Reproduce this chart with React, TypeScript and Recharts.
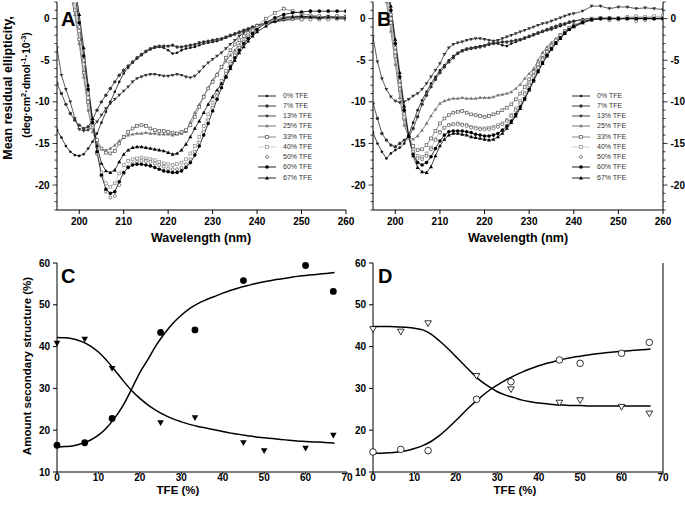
import React from 'react';
import { LineChart, Line, XAxis, YAxis, Legend, ComposedChart, Scatter } from 'recharts';

const FONT = '"Liberation Sans", Arial, Helvetica, sans-serif';

// ---------- Spectra (panels A, B) ----------
const wavelengths = [
  195, 196, 197, 198, 199, 200, 201, 202, 203, 204,
  205, 206, 207, 208, 209, 210, 211, 212, 213, 214,
  215, 216, 217, 218, 219, 220, 221, 222, 223, 224,
  225, 226, 227, 228, 229, 230, 231, 232, 233, 234,
  235, 236, 237, 238, 239, 240,
  242, 244, 246, 248, 250, 252, 254, 256, 258, 260,
];

const seriesLabels = ['0% TFE', '7% TFE', '13% TFE', '25% TFE', '33% TFE', '40% TFE', '50% TFE', '60% TFE', '67% TFE'];
const seriesKeys = ['s0', 's7', 's13', 's25', 's33', 's40', 's50', 's60', 's67'];

const a0 = [-13.4, -14.3, -15.3, -16.0, -16.4, -16.5, -16.3, -15.6, -14.8, -13.8,
  -12.5, -11.2, -10.0, -8.8, -7.6, -6.6, -5.9, -5.3, -4.8, -4.4,
  -4.0, -3.7, -3.5, -3.4, -3.5, -3.8, -4.2, -4.1, -3.8, -3.6,
  -3.5, -3.4, -3.2, -3.0, -2.9, -2.8, -2.7, -2.5, -2.3, -2.1,
  -1.9, -1.7, -1.5, -1.3, -1.1, -0.9,
  -0.6, -0.4, -0.2, -0.1, 0.0, 0.1, 0.0, 0.1, 0.0, 0.0];
const a7 = [-7.8, -9.0, -10.3, -11.4, -12.2, -12.8, -13.2, -13.0, -12.1, -11.0,
  -10.0, -9.2, -8.4, -7.6, -6.8, -6.2, -5.7, -5.2, -4.7, -4.3,
  -3.9, -3.6, -3.4, -3.3, -3.3, -3.3, -3.2, -3.4, -3.4, -3.3,
  -3.2, -3.1, -2.9, -2.8, -2.7, -2.6, -2.5, -2.4, -2.2, -2.0,
  -1.8, -1.6, -1.4, -1.2, -1.0, -0.8,
  -0.5, -0.3, -0.1, 0.0, 0.1, 0.2, 0.1, 0.0, 0.1, 0.0];
const a13 = [-3.5, -6.8, -8.5, -10.0, -12.0, -13.3, -13.5, -13.4, -13.0, -12.4,
  -11.6, -10.8, -10.2, -9.7, -9.2, -8.7, -8.2, -7.6, -7.2, -7.0,
  -6.8, -6.7, -6.7, -6.8, -6.9, -6.9, -6.8, -6.7, -6.8, -7.0,
  -7.1, -6.9, -6.4, -5.8, -5.3, -4.9, -4.5, -4.1, -3.6, -3.1,
  -2.6, -2.1, -1.7, -1.4, -1.1, -0.9,
  -0.5, -0.2, 0.0, 0.1, 0.2, 0.3, 0.2, 0.3, 0.2, 0.3];
const a25 = [9.0, 7.0, 5.0, 3.0, 0.5, -3.0, -7.0, -11.0, -13.6, -15.0,
  -15.7, -15.8, -15.6, -15.2, -14.7, -14.3, -14.0, -13.9, -13.8, -13.8,
  -13.7, -13.8, -13.8, -13.9, -13.9, -13.9, -14.0, -13.9, -13.8, -13.6,
  -12.4, -11.3, -10.3, -9.3, -8.3, -7.4, -6.6, -5.9, -5.1, -4.4,
  -3.8, -3.1, -2.5, -2.0, -1.5, -1.1,
  -0.4, 0.0, 0.2, 0.3, 0.3, 0.2, 0.1, 0.0, 0.0, -0.1];
const a33 = [12.0, 9.0, 6.0, 3.5, 1.0, -2.5, -6.5, -10.0, -12.8, -14.6,
  -15.6, -16.1, -16.2, -15.9, -15.0, -14.2, -13.6, -13.2, -12.9, -12.8,
  -12.9, -13.2, -13.4, -13.5, -13.5, -13.6, -13.7, -13.8, -13.6, -13.4,
  -12.8, -11.8, -10.6, -9.4, -8.4, -7.6, -6.8, -5.8, -4.7, -3.8,
  -3.1, -2.6, -2.1, -1.7, -1.3, -0.9,
  0.0, 0.7, 1.2, 0.9, 0.6, 0.4, 0.3, 0.2, 0.3, 0.2];
const a40 = [13.0, 10.0, 7.0, 4.5, 2.0, -1.5, -5.5, -9.5, -13.0, -16.2,
  -18.5, -19.8, -20.2, -19.8, -18.6, -17.6, -17.1, -16.9, -16.8, -16.7,
  -16.8, -16.9, -17.0, -17.2, -17.4, -17.5, -17.6, -17.5, -17.3, -16.9,
  -16.2, -15.3, -14.2, -12.9, -11.5, -10.1, -8.8, -7.5, -6.3, -5.2,
  -4.2, -3.3, -2.6, -2.0, -1.5, -1.1,
  -0.5, -0.1, 0.1, 0.0, -0.1, 0.0, -0.1, 0.0, 0.0, -0.1];
const a50 = [14.0, 11.0, 8.0, 5.5, 2.5, -1.0, -5.0, -9.0, -12.8, -16.2,
  -18.9, -20.8, -21.5, -21.3, -20.0, -18.6, -17.8, -17.4, -17.2, -17.1,
  -17.1, -17.2, -17.4, -17.6, -17.8, -18.0, -18.1, -18.1, -17.9, -17.5,
  -16.9, -16.0, -14.9, -13.6, -12.2, -10.7, -9.3, -7.9, -6.6, -5.4,
  -4.4, -3.5, -2.8, -2.2, -1.7, -1.3,
  -0.6, -0.2, 0.0, 0.0, -0.1, -0.1, 0.0, -0.1, 0.0, 0.0];
const a60 = [15.0, 12.0, 9.0, 6.0, 3.0, -0.5, -4.5, -8.5, -12.5, -16.0,
  -18.8, -20.5, -21.0, -20.8, -19.6, -18.5, -17.9, -17.6, -17.5, -17.5,
  -17.6, -17.7, -17.9, -18.1, -18.3, -18.4, -18.5, -18.5, -18.3, -17.9,
  -17.3, -16.4, -15.3, -14.0, -12.6, -11.1, -9.7, -8.3, -7.0, -5.8,
  -4.7, -3.8, -3.0, -2.4, -1.8, -1.3,
  -0.5, 0.1, 0.5, 0.7, 0.8, 0.9, 0.9, 0.9, 0.9, 0.9];
const a67 = [16.0, 13.0, 10.0, 7.0, 4.0, 0.5, -3.5, -8.0, -12.0, -15.3,
  -17.4, -18.3, -18.5, -18.2, -17.2, -16.3, -15.8, -15.5, -15.4, -15.4,
  -15.5, -15.6, -15.7, -15.8, -15.9, -16.1, -16.3, -16.2, -15.8, -15.1,
  -14.2, -13.2, -12.3, -11.3, -10.3, -9.4, -8.6, -7.8, -7.0, -6.0,
  -5.0, -4.1, -3.4, -2.7, -2.1, -1.6,
  -0.9, -0.3, 0.1, 0.2, 0.3, 0.2, 0.1, 0.2, 0.1, 0.1];

const b0 = [-13.7, -15.0, -16.0, -16.8, -16.2, -15.8, -15.5, -15.0, -14.0, -12.5,
  -11.0, -9.8, -8.8, -7.8, -7.0, -6.2, -5.6, -5.0, -4.5, -4.1,
  -3.8, -3.6, -3.5, -3.4, -3.3, -3.2, -3.0, -2.9, -3.0, -3.2,
  -3.3, -3.0, -2.8, -2.6, -2.4, -2.2, -2.0, -1.8, -1.6, -1.4,
  -1.3, -1.1, -0.9, -0.7, -0.5, -0.3,
  -0.1, 0.0, 0.0, 0.1, 0.0, 0.1, 0.0, 0.1, 0.0, 0.0];
const b7 = [-10.2, -12.0, -13.8, -14.6, -15.2, -15.4, -15.0, -14.6, -14.2, -13.2,
  -11.8, -10.3, -9.2, -8.2, -7.3, -6.5, -5.8, -5.2, -4.7, -4.2,
  -3.9, -3.7, -3.6, -3.5, -3.4, -3.3, -3.1, -3.0, -2.9, -2.8,
  -2.8, -2.7, -2.6, -2.5, -2.3, -2.1, -1.9, -1.7, -1.5, -1.3,
  -1.1, -0.9, -0.7, -0.6, -0.4, -0.3,
  -0.1, 0.0, 0.0, 0.0, 0.0, 0.0, 0.0, 0.0, 0.0, 0.0];
const b13 = [-2.2, -5.2, -7.2, -8.5, -9.4, -9.9, -10.1, -10.0, -9.7, -9.3,
  -9.0, -8.5, -7.8, -7.0, -6.2, -5.4, -4.3, -3.5, -3.1, -2.9,
  -2.8, -2.6, -2.5, -2.4, -2.4, -2.5, -2.6, -2.7, -2.6, -2.4,
  -2.2, -2.0, -1.8, -1.6, -1.4, -1.2, -1.0, -0.8, -0.6, -0.5,
  -0.3, -0.1, 0.1, 0.3, 0.5, 0.6,
  0.9, 1.5, 1.5, 1.2, 1.4, 1.4, 1.2, 1.3, 1.2, 1.1];
const b25 = [10.0, 7.5, 5.0, 2.0, -1.5, -5.5, -9.5, -12.8, -14.3, -14.5,
  -14.1, -13.4, -12.6, -11.7, -10.9, -10.2, -9.9, -9.7, -9.6, -9.6,
  -9.5, -9.6, -9.6, -9.6, -9.5, -9.5, -9.5, -9.4, -9.2, -9.1,
  -9.0, -8.8, -8.4, -7.9, -7.2, -6.6, -6.0, -5.0, -4.1, -3.4,
  -2.9, -2.4, -2.0, -1.6, -1.2, -0.9,
  -0.5, -0.2, 0.0, 0.0, 0.1, 0.0, 0.1, 0.1, 0.0, 0.1];
const b33 = [11.0, 8.5, 6.0, 3.0, -0.5, -4.5, -8.5, -12.0, -14.2, -15.3,
  -15.8, -15.7, -15.2, -14.4, -13.5, -12.6, -12.0, -11.6, -11.3, -11.2,
  -11.1, -11.3, -11.5, -11.6, -11.7, -11.8, -11.7, -11.5, -11.3, -11.0,
  -10.7, -10.3, -9.7, -9.0, -8.2, -7.3, -6.4, -5.5, -4.7, -3.9,
  -3.2, -2.6, -2.0, -1.5, -1.1, -0.8,
  -0.3, 0.0, 0.1, 0.1, 0.0, 0.1, 0.2, 0.1, 0.2, 0.2];
const b40 = [12.0, 9.5, 6.5, 3.5, 0.0, -4.0, -8.0, -11.8, -14.3, -15.8,
  -16.5, -16.6, -16.2, -15.5, -14.5, -13.6, -13.1, -12.8, -12.7, -12.6,
  -12.7, -12.8, -13.0, -13.1, -13.2, -13.2, -13.1, -13.0, -12.8, -12.6,
  -12.2, -11.6, -10.8, -9.9, -8.9, -7.8, -6.8, -5.8, -4.9, -4.0,
  -3.2, -2.6, -2.0, -1.5, -1.1, -0.8,
  -0.3, 0.0, 0.1, 0.0, 0.1, 0.2, 0.3, 0.2, 0.3, 0.3];
const b50 = [12.5, 10.0, 7.0, 4.0, 0.5, -3.5, -7.5, -11.5, -14.3, -16.0,
  -16.8, -16.9, -16.5, -15.7, -14.6, -13.7, -13.1, -12.8, -12.7, -12.7,
  -12.8, -12.9, -13.1, -13.2, -13.3, -13.3, -13.3, -13.2, -13.0, -12.7,
  -12.3, -11.7, -11.0, -10.1, -9.1, -8.0, -6.9, -5.9, -4.9, -4.0,
  -3.3, -2.6, -2.0, -1.5, -1.1, -0.8,
  -0.3, -0.1, 0.0, -0.2, -0.1, 0.0, -0.3, -0.2, 0.0, 0.1];
const b60 = [13.0, 10.5, 7.5, 4.5, 1.0, -3.0, -7.0, -11.0, -14.2, -16.3,
  -17.3, -17.6, -17.3, -16.6, -15.6, -14.7, -14.0, -13.6, -13.5, -13.5,
  -13.5, -13.6, -13.7, -13.9, -14.0, -14.1, -14.1, -14.0, -13.8, -13.4,
  -12.9, -12.3, -11.5, -10.6, -9.6, -8.5, -7.4, -6.3, -5.3, -4.4,
  -3.6, -2.9, -2.3, -1.7, -1.3, -0.9,
  -0.4, -0.1, 0.0, 0.0, 0.0, 0.0, 0.0, 0.0, 0.0, 0.0];
const b67 = [14.0, 11.0, 8.0, 5.0, 1.5, -2.5, -6.5, -10.5, -14.0, -16.5,
  -17.9, -18.4, -18.5, -17.8, -16.5, -15.3, -14.5, -14.0, -13.8, -13.8,
  -13.9, -14.0, -14.2, -14.3, -14.4, -14.5, -14.6, -14.5, -14.2, -13.8,
  -13.2, -12.5, -11.7, -10.8, -9.7, -8.6, -7.5, -6.4, -5.4, -4.5,
  -3.7, -3.0, -2.4, -1.8, -1.3, -1.0,
  -0.5, -0.1, 0.0, 0.0, 0.0, 0.0, 0.0, 0.0, 0.0, 0.0];

const spectraA = [a0, a7, a13, a25, a33, a40, a50, a60, a67];
const spectraB = [b0, b7, b13, b25, b33, b40, b50, b60, b67];

const xTicksSpectra = [200, 210, 220, 230, 240, 250, 260];
const yTicksSpectra = [-23, -22, -21, -20, -19, -18, -17, -16, -15, -14, -13, -12, -11, -10, -9, -8, -7, -6, -5, -4, -3, -2, -1, 0, 1, 2];

// ---------- TFE titration (panels C, D) ----------
const tfePoints = [0, 6.7, 13.3, 25, 33.3, 45, 50, 60, 66.7];
const cHelixPts = [16.4, 17.0, 22.8, 43.4, 44.0, 55.8, null, 59.4, 53.2];
const cCoilPts = [40.8, 41.8, 34.8, 21.8, 23.0, 17.0, 15.1, 15.7, 18.8];
const dHelixPts = [14.8, 15.4, 15.1, 27.4, 31.6, 36.8, 36.0, 38.4, 41.0];
const dCoilPts = [44.2, 43.6, 45.6, 33.0, 29.8, 26.6, 27.2, 25.6, 24.0];

const fitX = [0, 2, 4, 6, 8, 10, 12, 14, 16, 18, 20, 22, 24, 26, 28, 30, 32, 34, 36, 38, 40, 42, 44, 46, 48, 50, 52, 54, 56, 58, 60, 62, 64, 66, 67];
const cHelixFit = [16.0, 16.1, 16.3, 16.8, 17.6, 18.8, 20.6, 23.0, 26.0, 29.8, 33.8, 37.0, 40.4, 43.2, 45.6, 47.5, 49.1, 50.3, 51.2, 52.0, 52.8, 53.5, 54.1, 54.6, 55.1, 55.5, 55.9, 56.2, 56.5, 56.8, 57.0, 57.2, 57.4, 57.6, 57.7];
const cCoilFit = [42.2, 42.1, 41.8, 41.2, 40.2, 38.7, 36.7, 34.3, 31.8, 29.5, 27.6, 26.0, 24.7, 23.6, 22.7, 22.0, 21.4, 20.9, 20.5, 20.1, 19.7, 19.3, 19.0, 18.7, 18.4, 18.2, 18.0, 17.8, 17.6, 17.4, 17.3, 17.2, 17.1, 17.0, 16.9];
const dHelixFit = [14.5, 14.5, 14.6, 14.8, 15.1, 15.6, 16.3, 17.3, 18.7, 20.4, 22.3, 24.3, 26.2, 27.9, 29.5, 30.8, 32.0, 33.0, 33.9, 34.7, 35.4, 36.0, 36.5, 37.0, 37.4, 37.7, 38.0, 38.3, 38.5, 38.7, 38.9, 39.0, 39.2, 39.3, 39.4];
const dCoilFit = [44.8, 44.8, 44.8, 44.7, 44.6, 44.4, 44.0, 43.0, 41.4, 39.6, 37.6, 35.6, 33.6, 31.8, 30.4, 29.2, 28.4, 27.8, 27.2, 26.8, 26.5, 26.3, 26.1, 26.0, 25.9, 25.9, 25.8, 25.8, 25.8, 25.8, 25.8, 25.8, 25.8, 25.8, 25.8];

const xTicksTFE = [0, 10, 20, 30, 40, 50, 60, 70];
const yTicksTFE = [10, 20, 30, 40, 50, 60];

// ---------- helpers ----------
const buildSpectra = (series: number[][]) =>
  wavelengths.map((wl, i) => {
    const row: any = { wl };
    seriesKeys.forEach((k, j) => { row[k] = series[j][i]; });
    return row;
  });
const dataA = buildSpectra(spectraA);
const dataB = buildSpectra(spectraB);

const toXY = (xs: number[], ys: (number | null)[]) =>
  xs.map((x, i) => ({ x, y: ys[i] })).filter((p) => p.y !== null);

const seriesStyles = [
  { stroke: '#1a1a1a', marker: 'dot' },
  { stroke: '#2a2a2a', marker: 'dotLg' },
  { stroke: '#333333', marker: 'triDown' },
  { stroke: '#6a6a6a', marker: 'triUp' },
  { stroke: '#7a7a7a', marker: 'sq' },
  { stroke: '#c8c8c8', marker: 'sqLight' },
  { stroke: 'none', marker: 'ring' },
  { stroke: '#000000', marker: 'dotBlack' },
  { stroke: '#111111', marker: 'triUpBlack' },
];

function marker(kind: string, cx: number, cy: number, key?: string) {
  if (cx == null || cy == null || isNaN(cx) || isNaN(cy)) return <g key={key} />;
  const tri = (up: boolean, s: number, fill: string) =>
    up
      ? <path key={key} d={`M${cx - s},${cy + s * 0.7}L${cx + s},${cy + s * 0.7}L${cx},${cy - s}Z`} fill={fill} />
      : <path key={key} d={`M${cx - s},${cy - s * 0.7}L${cx + s},${cy - s * 0.7}L${cx},${cy + s}Z`} fill={fill} />;
  switch (kind) {
    case 'dot': return <circle key={key} cx={cx} cy={cy} r={1.3} fill="#111" />;
    case 'dotLg': return <circle key={key} cx={cx} cy={cy} r={1.7} fill="#333" />;
    case 'triDown': return tri(false, 1.9, '#333');
    case 'triUp': return tri(true, 1.9, '#777');
    case 'sq': return <rect key={key} x={cx - 1.4} y={cy - 1.4} width={2.8} height={2.8} fill="#fff" stroke="#555" strokeWidth={0.7} />;
    case 'sqLight': return <rect key={key} x={cx - 1.4} y={cy - 1.4} width={2.8} height={2.8} fill="#fff" stroke="#888" strokeWidth={0.7} />;
    case 'ring': return <circle key={key} cx={cx} cy={cy} r={1.5} fill="#fff" stroke="#555" strokeWidth={0.7} />;
    case 'dotBlack': return <circle key={key} cx={cx} cy={cy} r={1.8} fill="#000" />;
    case 'triUpBlack': return tri(true, 2.0, '#000');
    default: return <g key={key} />;
  }
}

const makeDot = (kind: string, sk: string) => (p: any) => marker(kind, p.cx, p.cy, `${sk}-${p.index}`);

const makeSpectraYTick = (side: 'left' | 'right') => (props: any) => {
  const { x, y, payload } = props;
  const v = payload.value;
  const major = v % 5 === 0;
  const dir = side === 'left' ? -1 : 1;
  const len = major ? 4.5 : 2.5;
  return (
    <g>
      <line x1={x} y1={y} x2={x + dir * len} y2={y} stroke="#000" strokeWidth={0.8} />
      {major && (
        <text x={x + dir * (len + 3)} y={y} dy="0.355em" textAnchor={side === 'left' ? 'end' : 'start'}
          fontSize={10} fontWeight={700} fontFamily={FONT} fill="#000">{v}</text>
      )}
    </g>
  );
};

const SpectraLegend = () => (
  <div style={{ fontFamily: FONT, fontSize: 7, color: '#333' }}>
    {seriesLabels.map((name, i) => (
      <div key={name} style={{ display: 'flex', alignItems: 'center', height: 10.25 }}>
        <svg width={20} height={10} style={{ display: 'block' }}>
          {seriesStyles[i].stroke !== 'none' && (
            <line x1={0} y1={5} x2={18} y2={5} stroke={seriesStyles[i].stroke} strokeWidth={0.9} />
          )}
          {marker(seriesStyles[i].marker, 9, 5)}
        </svg>
        <span style={{ marginLeft: 5, whiteSpace: 'nowrap', lineHeight: '10px' }}>{name}</span>
      </div>
    ))}
  </div>
);

const tickStyle = { fontSize: 10, fontWeight: 700, fill: '#000', fontFamily: FONT };
const axisLine = { stroke: '#000', strokeWidth: 1 };

const ellipticityLabel = (p: any) => (
  <g fontFamily={FONT} fontWeight={700} fill="#000">
    <text transform="translate(8,88) rotate(-90)" x={0} y={0} dy="0.35em" textAnchor="middle" fontSize={12.5}>
      Mean residual ellipticity,
    </text>
    <text transform="translate(26,85) rotate(-90)" x={0} y={0} dy="0.35em" textAnchor="middle" fontSize={10.5}>
      <tspan>(deg·cm</tspan>
      <tspan dy={-4} fontSize={7.5}>2</tspan>
      <tspan dy={4}>·dmol</tspan>
      <tspan dy={-4} fontSize={7.5}>-1</tspan>
      <tspan dy={4}>·10</tspan>
      <tspan dy={-4} fontSize={7.5}>-3</tspan>
      <tspan dy={4}>)</tspan>
    </text>
  </g>
);

const amountLabel = (p: any) => (
  <text transform="translate(27,116) rotate(-90)" x={0} y={0} dy="0.35em" textAnchor="middle"
    fontSize={11.5} fontWeight={700} fontFamily={FONT} fill="#000">
    Amount secondary structure (%)
  </text>
);

const xTitle = (title: string, tx: number, ty: number, size: number, letter: string, lx: number, ly: number) => (p: any) => (
  <g fontFamily={FONT} fontWeight={700} fill="#000">
    <text x={tx} y={ty} textAnchor="middle" fontSize={size}>{title}</text>
    <text x={lx} y={ly} fontSize={20}>{letter}</text>
  </g>
);

function SpectraPanel({ data, left, legendLeft, rightLabels, letter, letterX, titleX, yLabel }: any) {
  const width = rightLabels ? 345 : 360;
  return (
    <div style={{ position: 'absolute', left, top: 0 }}>
      <LineChart width={width} height={260} data={data}
        margin={{ top: 2, right: rightLabels ? 0 : 14, bottom: 0, left: 0 }}>
        <XAxis xAxisId="b" dataKey="wl" type="number" domain={[195, 260]} ticks={xTicksSpectra}
          allowDataOverflow interval={0} height={50} tickSize={4} tickMargin={4}
          tick={tickStyle} tickLine={{ stroke: '#000' }} axisLine={axisLine}
          label={xTitle('Wavelength (nm)', titleX, 241.5, 12.5, letter, letterX, 26)} />
        <XAxis xAxisId="t" orientation="top" dataKey="wl" type="number" domain={[195, 260]} height={0}
          tick={false} tickLine={false} axisLine={axisLine} />
        <YAxis yAxisId="l" type="number" domain={[-23, 2]} ticks={yTicksSpectra} allowDataOverflow
          interval={0} width={rightLabels ? 33 : 57} tickSize={0} tickMargin={0} tickLine={false}
          tick={makeSpectraYTick('left')} axisLine={axisLine} label={yLabel} />
        <YAxis yAxisId="r" orientation="right" type="number" domain={[-23, 2]} ticks={yTicksSpectra}
          allowDataOverflow interval={0} width={rightLabels ? 22 : 0} tickSize={0} tickMargin={0}
          tickLine={false} tick={rightLabels ? makeSpectraYTick('right') : false} axisLine={axisLine} />
        {seriesKeys.map((k, i) => (
          <Line key={k} xAxisId="b" yAxisId="l" type="linear" dataKey={k} name={seriesLabels[i]}
            stroke={seriesStyles[i].stroke} strokeWidth={0.8}
            dot={makeDot(seriesStyles[i].marker, k)} activeDot={false} isAnimationActive={false} />
        ))}
        <Legend layout="vertical" align="center" verticalAlign="middle"
          wrapperStyle={{ left: legendLeft, top: 90.6, width: 80 }} content={() => <SpectraLegend />} />
      </LineChart>
    </div>
  );
}

function TitrationPanel({ left, rightLabels, helixPts, coilPts, helixFit, coilFit, open, letter, letterX, titleX }: any) {
  const width = rightLabels ? 345 : 360;
  const helixShape = (p: any) => open
    ? <circle cx={p.cx} cy={p.cy} r={3.3} fill="#fff" stroke="#000" strokeWidth={0.8} />
    : <circle cx={p.cx} cy={p.cy} r={3.4} fill="#000" />;
  const coilShape = (p: any) => {
    const { cx, cy } = p;
    const d = `M${cx - 3.3},${cy - 2.4}L${cx + 3.3},${cy - 2.4}L${cx},${cy + 3.3}Z`;
    return open
      ? <path d={d} fill="#fff" stroke="#000" strokeWidth={0.8} />
      : <path d={d} fill="#000" />;
  };
  return (
    <div style={{ position: 'absolute', left, top: 250 }}>
      <ComposedChart width={width} height={257}
        margin={{ top: 13, right: rightLabels ? 0 : 13, bottom: 0, left: 0 }}>
        <XAxis xAxisId="b" dataKey="x" type="number" domain={[0, 70]} ticks={xTicksTFE} interval={0}
          height={35} tickSize={2} tickMargin={0} tick={tickStyle} tickLine={{ stroke: '#000' }} axisLine={axisLine}
          label={xTitle('TFE (%)', titleX, 244, 11.5, letter, letterX, 33)} />
        <XAxis xAxisId="t" orientation="top" dataKey="x" type="number" domain={[0, 70]} height={0}
          tick={false} tickLine={false} axisLine={axisLine} />
        <YAxis yAxisId="l" dataKey="y" type="number" domain={[10, 60]} ticks={yTicksTFE} interval={0}
          width={rightLabels ? 33 : 57} tickSize={4} tickMargin={3} tick={tickStyle}
          tickLine={{ stroke: '#000' }} axisLine={axisLine} label={rightLabels ? undefined : amountLabel} />
        <YAxis yAxisId="r" orientation="right" dataKey="y" type="number" domain={[10, 60]} ticks={yTicksTFE}
          interval={0} width={rightLabels ? 22 : 0} tickSize={rightLabels ? 4 : 0} tickMargin={2}
          tick={rightLabels ? tickStyle : false} tickLine={rightLabels ? { stroke: '#000' } : false} axisLine={axisLine} />
        <Line xAxisId="b" yAxisId="l" data={toXY(fitX, helixFit)} dataKey="y" type="monotone"
          stroke="#000" strokeWidth={1.5} dot={false} activeDot={false} isAnimationActive={false} />
        <Line xAxisId="b" yAxisId="l" data={toXY(fitX, coilFit)} dataKey="y" type="monotone"
          stroke="#000" strokeWidth={1.5} dot={false} activeDot={false} isAnimationActive={false} />
        <Scatter xAxisId="b" yAxisId="l" data={toXY(tfePoints, helixPts)} dataKey="y"
          shape={helixShape} isAnimationActive={false} />
        <Scatter xAxisId="b" yAxisId="l" data={toXY(tfePoints, coilPts)} dataKey="y"
          shape={coilShape} isAnimationActive={false} />
      </ComposedChart>
    </div>
  );
}

export default function App() {
  return (
    <div style={{ position: 'absolute', left: 0, top: 0, width: 685, height: 507, background: '#fff', overflow: 'hidden' }}>
      <SpectraPanel data={dataA} left={0} legendLeft={258} rightLabels={false} letter="A" letterX={61}
        titleX={201} yLabel={ellipticityLabel} />
      <SpectraPanel data={dataB} left={340} legendLeft={232} rightLabels={true} letter="B" letterX={37}
        titleX={178} yLabel={undefined} />
      <TitrationPanel left={0} rightLabels={false} helixPts={cHelixPts} coilPts={cCoilPts}
        helixFit={cHelixFit} coilFit={cCoilFit} open={false} letter="C" letterX={61} titleX={178} />
      <TitrationPanel left={340} rightLabels={true} helixPts={dHelixPts} coilPts={dCoilPts}
        helixFit={dHelixFit} coilFit={dCoilFit} open={true} letter="D" letterX={38} titleX={175} />
    </div>
  );
}
